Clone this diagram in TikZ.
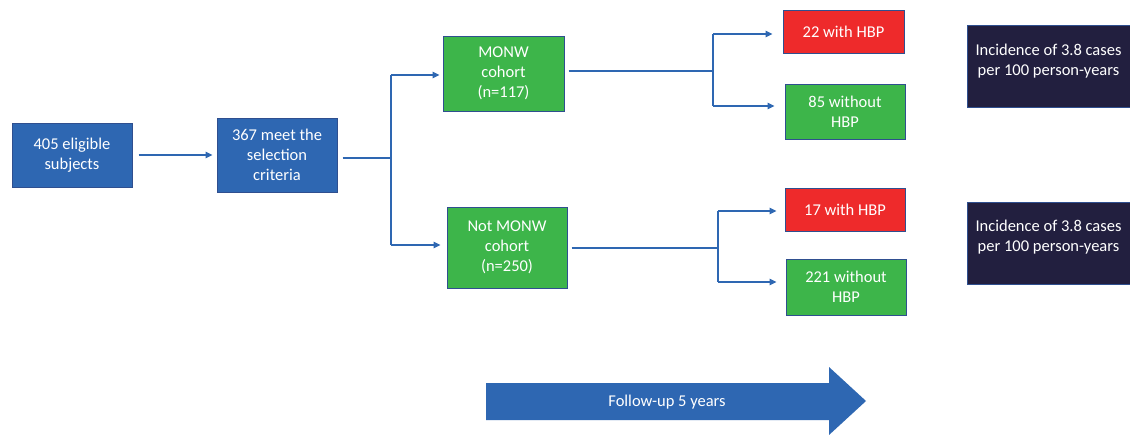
\documentclass[tikz,border=0pt]{standalone}
\usepackage{fontspec}
\setmainfont{Carlito}
\usetikzlibrary{arrows.meta,calc}
\definecolor{bblue}{HTML}{2E67B2}
\definecolor{bedge}{HTML}{2F4F8F}
\definecolor{bgreen}{HTML}{3DB54A}
\definecolor{bred}{HTML}{EE2A2B}
\definecolor{bnavy}{HTML}{221F3F}
\begin{document}
\begin{tikzpicture}[x=1pt,y=-1pt,
  txt/.style={text=white,align=center,font=\fontsize{16.5}{20}\selectfont},
  box/.style={draw=bedge,line width=1pt,txt,inner sep=0pt},
  bluebox/.style={box,fill=bblue},
  greenbox/.style={box,fill=bgreen},
  redbox/.style={box,fill=bred},
  navybox/.style={box,fill=bnavy,draw=bedge},
  conn/.style={draw=bblue,line width=1.1pt},
  arr/.style={conn,-{Triangle[length=7pt,width=6.5pt]}}]
\useasboundingbox (0,0) rectangle (1130,434);
\fill[white] (0,0) rectangle (1130,434);
% nodes
\node[bluebox,minimum width=120pt,minimum height=64pt] (a) at (72,155) {405 eligible\\subjects};
\node[bluebox,minimum width=120pt,minimum height=74pt] (b) at (277,155) {367 meet the\\selection\\criteria};
\node[greenbox,minimum width=121pt,minimum height=75pt] (m) at (503.5,73.5) {MONW\\cohort\\(n=117)};
\node[greenbox,minimum width=120pt,minimum height=81pt] (nm) at (507,247.5) {Not MONW\\cohort\\(n=250)};
\node[redbox,minimum width=121pt,minimum height=43pt] (h1) at (843.5,31.5) {22 with HBP};
\node[greenbox,minimum width=120pt,minimum height=55pt] (n1) at (845,111.5) {85 without\\HBP};
\node[redbox,minimum width=120pt,minimum height=43pt] (h2) at (845,209.5) {17 with HBP};
\node[greenbox,minimum width=120pt,minimum height=56pt] (n2) at (846,287) {221 without\\HBP};
\node[navybox,minimum width=165pt,minimum height=82pt] (i1) at (1049.5,66) {};
\node[navybox,minimum width=165pt,minimum height=82pt] (i2) at (1049.5,243) {};
\node[txt] (t1) at (1048.5,61) {Incidence of 3.8 cases\\per 100 person-years};
\node[txt] (t2) at (1048.5,237) {Incidence of 3.8 cases\\per 100 person-years};
% junctions
\coordinate (j1) at (391,158);
\coordinate (j2) at (713,71);
\coordinate (j3) at (718,248);
% connectors
\draw[arr,shorten <=6pt,shorten >=4pt] (a.east) -- (b.west);
\draw[conn,shorten <=5pt] (b.east |- j1) -- (j1);
\draw[conn] (j1) -- (391,75);
\draw[conn] (j1) -- (391,245);
\draw[arr,shorten >=3pt] (391,75) -- (m.west |- 0,75);
\draw[arr,shorten >=6pt] (391,245) -- (nm.west |- 0,245);
\draw[conn,shorten <=4pt] (m.east |- j2) -- (j2);
\draw[conn] (713,34) -- (713,106);
\draw[arr,shorten >=10pt] (713,34) -- (h1.west |- 0,34);
\draw[arr,shorten >=10pt] (713,106) -- (n1.west |- 0,106);
\draw[conn,shorten <=4pt] (nm.east |- j3) -- (j3);
\draw[conn] (718,211) -- (718,282);
\draw[arr,shorten >=8pt] (718,211) -- (h2.west |- 0,211);
\draw[arr,shorten >=9pt] (718,282) -- (n2.west |- 0,282);
% follow-up arrow
\fill[bblue] (486,383) -- (829,383) -- (829,367) -- (866,401) -- (829,435) -- (829,420) -- (486,420) -- cycle;
\node[txt] (f) at (667,402) {Follow-up 5 years};
\end{tikzpicture}
\end{document}
